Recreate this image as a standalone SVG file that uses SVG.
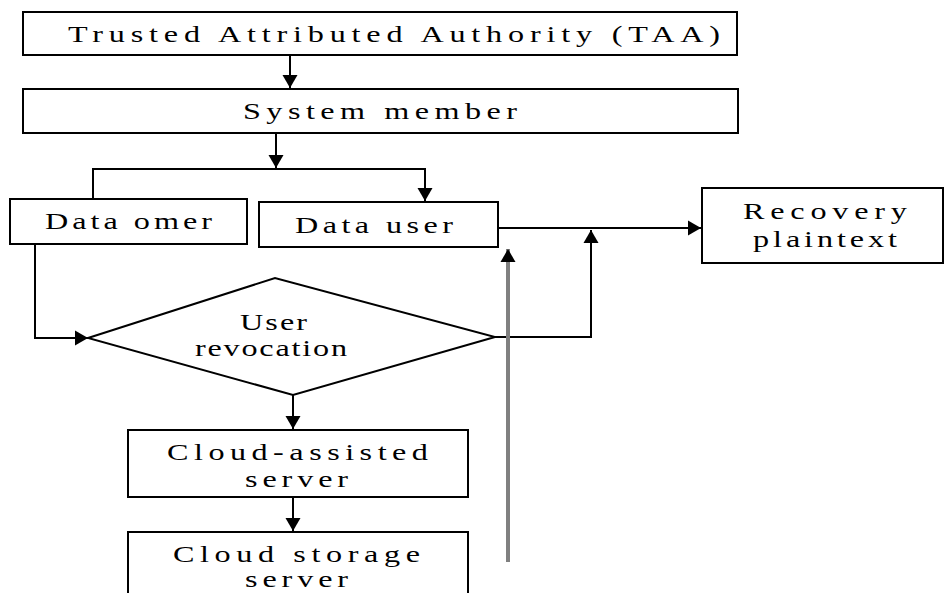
<svg xmlns="http://www.w3.org/2000/svg" width="944" height="593" viewBox="0 0 944 593">
<style>
.box{fill:#fff;stroke:#000;stroke-width:2}
.ln{fill:none;stroke:#000;stroke-width:2}
.gr{fill:none;stroke:#808080;stroke-width:4}
text{font-family:"Liberation Serif","Times New Roman",serif;font-size:23px;fill:#000}
</style>
<defs>
<marker id="ah" markerUnits="userSpaceOnUse" markerWidth="16" markerHeight="16" refX="13" refY="8" orient="auto">
<path d="M0,0.5 L13,8 L0,15.5 Z" fill="#000"/>
</marker>
</defs>
<g id="connectors">
<line class="ln" x1="290" y1="55" x2="290" y2="88" marker-end="url(#ah)"/>
<line class="ln" x1="276" y1="133" x2="276" y2="168" marker-end="url(#ah)"/>
<polyline class="ln" points="93,199 93,169 425,169 425,201" marker-end="url(#ah)"/>
<polyline class="ln" points="35,244 35,338 88,338" marker-end="url(#ah)"/>
<polyline class="ln" points="495,337 591,337 591,230" marker-end="url(#ah)"/>
<line class="ln" x1="498" y1="228" x2="701" y2="228" marker-end="url(#ah)"/>
<line class="gr" x1="508" y1="562" x2="508" y2="249" marker-end="url(#ah)"/>
<line class="ln" x1="293" y1="395" x2="293" y2="429" marker-end="url(#ah)"/>
<line class="ln" x1="293" y1="497" x2="293" y2="531" marker-end="url(#ah)"/>
</g>
<g id="taa">
<rect class="box" x="23" y="12" width="714" height="43"/>
<text transform="translate(68,42) scale(1.4,1)" textLength="465.7" lengthAdjust="spacing">Trusted Attributed Authority (TAA)</text>
</g>
<g id="system-member">
<rect class="box" x="23" y="89" width="715" height="44"/>
<text transform="translate(243,119) scale(1.4,1)" textLength="195.7" lengthAdjust="spacing">System member</text>
</g>
<g id="data-owner">
<rect class="box" x="10" y="199" width="237" height="45"/>
<text transform="translate(45,229) scale(1.4,1)" textLength="119.3" lengthAdjust="spacing">Data omer</text>
</g>
<g id="data-user">
<rect class="box" x="259" y="202" width="239" height="45"/>
<text transform="translate(295,233) scale(1.4,1)" textLength="112.9" lengthAdjust="spacing">Data user</text>
</g>
<g id="user-revocation">
<polygon class="box" points="88,338 275,278 495,337 293,395"/>
<text transform="translate(240,330) scale(1.4,1)" textLength="47.9" lengthAdjust="spacing">User</text>
<text transform="translate(195,356) scale(1.4,1)" textLength="108.6" lengthAdjust="spacing">revocation</text>
</g>
<g id="recovery-plaintext">
<rect class="box" x="702" y="188" width="241" height="75"/>
<text transform="translate(743,219) scale(1.4,1)" textLength="117.1" lengthAdjust="spacing">Recovery</text>
<text transform="translate(753,247) scale(1.4,1)" textLength="102.9" lengthAdjust="spacing">plaintext</text>
</g>
<g id="cloud-assisted-server">
<rect class="box" x="128" y="430" width="340" height="67"/>
<text transform="translate(167,460) scale(1.4,1)" textLength="186.4" lengthAdjust="spacing">Cloud-assisted</text>
<text transform="translate(245,487) scale(1.4,1)" textLength="73.6" lengthAdjust="spacing">server</text>
</g>
<g id="cloud-storage-server">
<rect class="box" x="128" y="532" width="340" height="70"/>
<text transform="translate(173,562) scale(1.4,1)" textLength="176.4" lengthAdjust="spacing">Cloud storage</text>
<text transform="translate(245,587) scale(1.4,1)" textLength="73.6" lengthAdjust="spacing">server</text>
</g>
</svg>
